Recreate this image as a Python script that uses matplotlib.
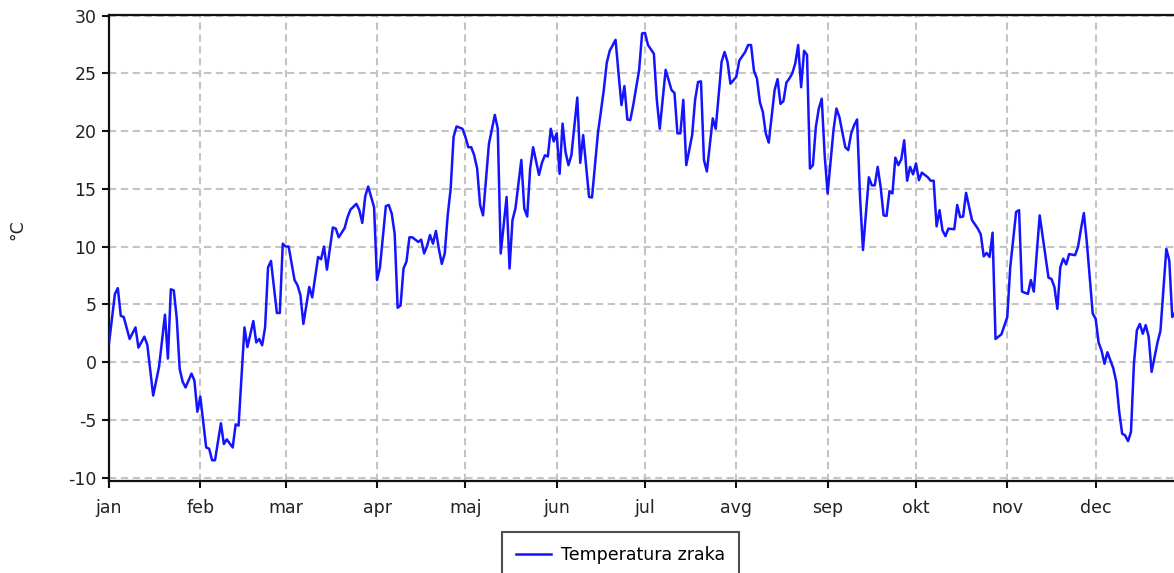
import numpy as np
import matplotlib.pyplot as plt

# day of year (leap year, 0 = 1 jan) and daily air temperature
days = [0, 2, 3, 4, 5, 7, 9, 10, 12, 13, 15, 17, 19, 20, 21, 22, 23, 24, 25, 26,
        28, 29, 30, 31, 33, 34, 35, 36, 38, 39, 40, 42, 43, 44, 46, 47, 49, 50, 51, 52,
        53, 54, 55, 57, 58, 59, 60, 61, 63, 64, 65, 66, 68, 69, 71, 72, 73, 74, 76, 77,
        78, 80, 81, 82, 84, 85, 86, 87, 88, 90, 91, 92, 94, 95, 96, 97, 98, 99, 100, 101,
        102, 103, 105, 106, 107, 108, 109, 110, 111, 112, 113, 114, 115, 116, 117, 118, 120, 121, 122, 123,
        124, 125, 126, 127, 129, 131, 132, 133, 135, 136, 137, 138, 140, 141, 142, 143, 144, 146, 147, 148,
        149, 150, 151, 152, 153, 154, 155, 156, 157, 159, 160, 161, 163, 164, 166, 168, 169, 170, 172, 173,
        174, 175, 176, 177, 178, 180, 181, 182, 183, 185, 186, 187, 189, 191, 192, 193, 194, 195, 196, 198,
        199, 200, 201, 202, 203, 205, 206, 208, 209, 210, 211, 213, 214, 216, 217, 218, 219, 220, 221, 222,
        223, 224, 226, 227, 228, 229, 230, 231, 232, 233, 234, 235, 236, 237, 238, 239, 240, 241, 242, 243,
        244, 246, 247, 248, 250, 251, 252, 253, 254, 255, 256, 258, 259, 260, 261, 262, 263, 264, 265, 266,
        267, 268, 269, 270, 271, 272, 273, 274, 275, 276, 278, 279, 280, 281, 282, 283, 284, 285, 287, 288,
        289, 290, 291, 293, 295, 296, 297, 298, 299, 300, 301, 302, 303, 305, 306, 308, 309, 310, 312, 313,
        314, 316, 319, 320, 321, 322, 323, 324, 325, 326, 328, 329, 330, 331, 332, 334, 335, 336, 337, 338,
        339, 341, 342, 343, 344, 345, 346, 347, 348, 349, 350, 351, 352, 353, 354, 356, 357, 359, 360, 361,
        362, 363, 364, 365]
temps = [1.6, 5.9, 6.4, 4.0, 3.9, 2.0, 3.0, 1.25, 2.2, 1.5, -2.9, -0.4, 4.1, 0.3, 6.3, 6.2, 3.8, -0.6, -1.7, -2.2,
         -1.0, -1.6, -4.3, -3.0, -7.4, -7.5, -8.5, -8.5, -5.3, -7.1, -6.7, -7.4, -5.4, -5.5, 3.0, 1.3, 3.55, 1.7, 2.0, 1.45,
         3.0, 8.2, 8.75, 4.25, 4.25, 10.25, 10.0, 10.0, 7.1, 6.65, 5.8, 3.3, 6.5, 5.6, 9.1, 8.9, 10.0, 8.0, 11.65, 11.55,
         10.8, 11.6, 12.55, 13.2, 13.7, 13.15, 12.05, 14.35, 15.2, 13.4, 7.1, 8.2, 13.5, 13.6, 12.85, 11.1, 4.7, 4.9, 8.1, 8.7,
         10.8, 10.8, 10.4, 10.6, 9.4, 10.05, 11.0, 10.25, 11.35, 9.8, 8.5, 9.4, 12.7, 15.0, 19.5, 20.4, 20.2, 19.5, 18.6, 18.6,
         17.9, 16.75, 13.6, 12.7, 18.9, 21.4, 20.2, 9.4, 14.3, 8.1, 12.3, 13.3, 17.5, 13.3, 12.6, 16.75, 18.6, 16.2, 17.25, 17.9,
         17.8, 20.2, 19.1, 19.8, 16.3, 20.65, 18.2, 17.05, 17.9, 22.9, 17.25, 19.65, 14.3, 14.25, 19.8, 23.55, 25.9, 26.95, 27.9, 25.0,
         22.25, 23.9, 21.0, 20.95, 22.25, 25.3, 28.45, 28.5, 27.45, 26.7, 22.7, 20.2, 25.3, 23.55, 23.3, 19.8, 19.8, 22.7, 17.05, 19.65,
         22.7, 24.25, 24.3, 17.5, 16.5, 21.1, 20.2, 26.0, 26.85, 26.0, 24.1, 24.7, 26.1, 26.85, 27.45, 27.45, 25.2, 24.55, 22.5, 21.65,
         19.8, 19.0, 23.55, 24.5, 22.35, 22.6, 24.2, 24.55, 25.0, 25.85, 27.45, 23.8, 26.95, 26.6, 16.75, 17.05, 20.35, 21.95, 22.8, 17.9,
         14.6, 20.1, 21.95, 21.2, 18.6, 18.35, 19.8, 20.5, 21.0, 14.3, 9.7, 16.0, 15.3, 15.3, 16.9, 15.15, 12.7, 12.65, 14.8, 14.6,
         17.7, 17.05, 17.55, 19.2, 15.7, 16.9, 16.25, 17.2, 15.75, 16.4, 16.0, 15.7, 15.7, 11.75, 13.15, 11.4, 10.9, 11.55, 11.5, 13.6,
         12.55, 12.6, 14.65, 12.3, 11.55, 11.05, 9.15, 9.45, 9.1, 11.2, 2.0, 2.2, 2.4, 3.9, 8.2, 13.0, 13.15, 6.1, 5.9, 7.1,
         6.1, 12.7, 7.3, 7.2, 6.5, 4.6, 8.2, 8.95, 8.45, 9.35, 9.25, 9.95, 11.5, 12.9, 10.4, 4.2, 3.75, 1.7, 1.0, -0.15,
         0.85, -0.55, -1.7, -4.3, -6.2, -6.35, -6.85, -6.05, -0.15, 2.75, 3.3, 2.45, 3.2, 2.2, -0.85, 1.7, 2.7, 9.8, 8.8, 3.9,
         4.3, 5.0, 4.2, 3.5]

month_starts = [0, 31, 60, 91, 121, 152, 182, 213, 244, 274, 305, 335]
month_labels = ['jan', 'feb', 'mar', 'apr', 'maj', 'jun', 'jul', 'avg', 'sep', 'okt', 'nov', 'dec']

plt.rcParams['font.family'] = 'DejaVu Sans'
plt.rcParams['axes.unicode_minus'] = False

fig = plt.figure(figsize=(11.74, 5.73), dpi=100)
ax = fig.add_axes([109 / 1174, 1 - 481 / 573, 1075 / 1174, 466 / 573])

ax.plot(days, temps, color='#1414ff', linewidth=1.8, label='Temperatura zraka', zorder=3)

ax.set_xlim(0, 365)
ax.set_ylim(-10.3, 30.05)
ax.set_xticks(month_starts)
ax.set_xticklabels(month_labels)
ax.set_yticks(np.arange(-10, 31, 5))

ax.grid(True, color='#c4c4c4', linestyle=(0, (3.5, 2.2)), linewidth=1.5, zorder=0)
for s in ax.spines.values():
    s.set_linewidth(1.6)
    s.set_color('#111111')
ax.tick_params(axis='both', direction='out', length=5, width=1.5, labelsize=12.5,
               labelcolor='#222222', color='#111111')
ax.tick_params(axis='x', pad=8)
ax.tick_params(axis='y', pad=4)

ax.set_ylabel('°C', fontsize=12.5, color='#222222')
ax.yaxis.set_label_coords(-0.077, 0.54)

leg = fig.legend(loc='upper left', bbox_to_anchor=(502 / 1174, 1 - 532 / 573),
                 fontsize=12.5, frameon=True, fancybox=False, borderaxespad=0,
                 handlelength=2.0, handletextpad=0.6, borderpad=0.8)
leg.get_frame().set_edgecolor('#222222')
leg.get_frame().set_linewidth(1.5)

fig.savefig('out.png', dpi=100)
